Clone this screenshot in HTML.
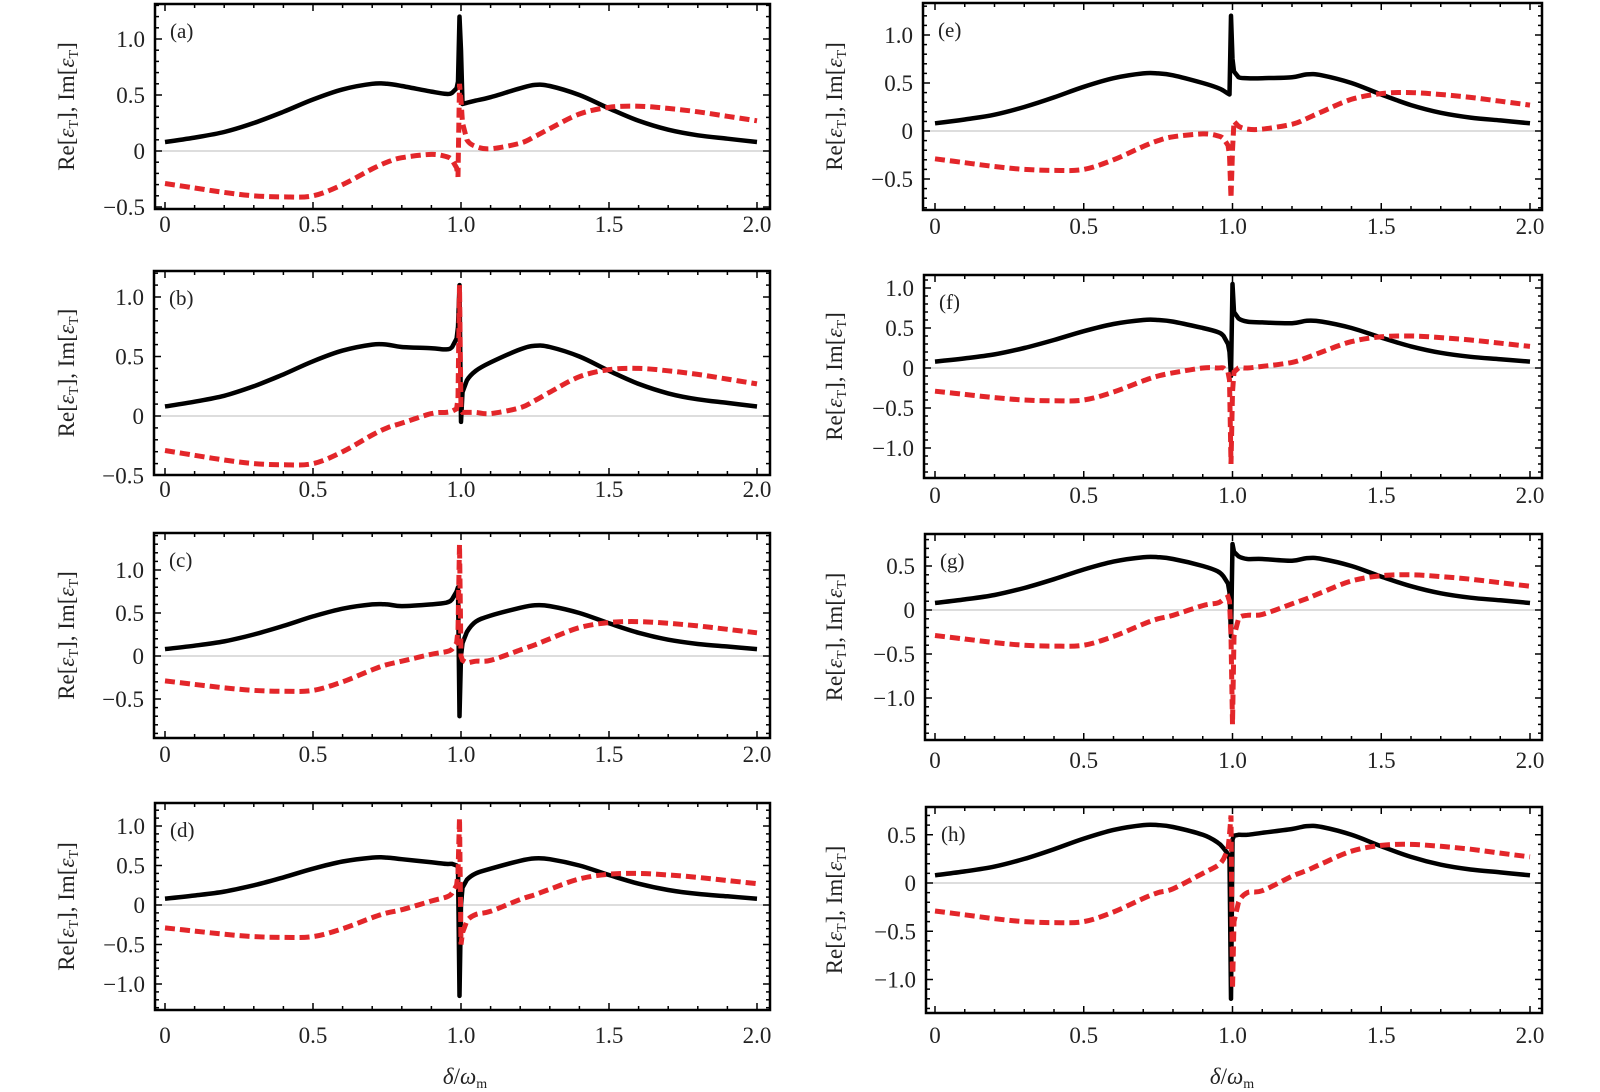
<!DOCTYPE html>
<html><head><meta charset="utf-8"><style>
html,body{margin:0;padding:0;background:#fff}
svg{display:block}
text{font-family:"Liberation Serif",serif;fill:#222}
</style></head><body>
<svg id="fig" width="1600" height="1092" viewBox="0 0 1600 1092" xmlns="http://www.w3.org/2000/svg"></svg>
<script>
// shared smooth background curves (x, value)
const baseX  = [0,0.1,0.2,0.3,0.4,0.5,0.6,0.7,0.75,0.8,1.2,1.25,1.3,1.4,1.5,1.6,1.7,1.8,1.9,2.0];
const baseRe = [0.08,0.12,0.17,0.25,0.35,0.46,0.55,0.60,0.60,0.58,0.56,0.59,0.58,0.50,0.38,0.27,0.19,0.14,0.11,0.08];
const baseIm = [-0.29,-0.33,-0.37,-0.40,-0.41,-0.40,-0.30,-0.16,-0.10,-0.06,0.07,0.13,0.20,0.33,0.39,0.40,0.38,0.35,0.31,0.27];
// resonance region per panel
const resX = {
 a:[0.9,0.95,0.97,0.985,0.99,0.995,1.0,1.005,1.02,1.05,1.1],
 b:[0.9,0.95,0.97,0.985,0.99,0.995,1.0,1.005,1.02,1.05,1.1],
 c:[0.9,0.95,0.97,0.985,0.99,0.995,1.0,1.005,1.02,1.05,1.1],
 d:[0.9,0.95,0.97,0.985,0.99,0.995,1.0,1.005,1.02,1.05,1.1],
 e:[0.9,0.95,0.97,0.985,0.99,0.995,1.0,1.005,1.02,1.05,1.1],
 f:[0.9,0.95,0.97,0.985,0.99,0.995,1.0,1.005,1.02,1.05,1.1],
 g:[0.9,0.95,0.97,0.985,0.99,0.995,1.0,1.005,1.02,1.05,1.1],
 h:[0.9,0.95,0.97,0.985,0.99,0.995,1.0,1.005,1.02,1.05,1.1]
};
const resRe = {
 a:[0.53,0.51,0.52,0.56,0.62,1.2,0.9,0.42,0.43,0.45,0.48],
 b:[0.57,0.56,0.58,0.65,0.75,1.1,-0.05,0.20,0.30,0.38,0.45],
 c:[0.60,0.62,0.66,0.75,0.80,-0.7,0.0,0.15,0.28,0.40,0.47],
 d:[0.54,0.52,0.52,0.50,0.48,-1.15,0.0,0.22,0.32,0.40,0.46],
 e:[0.50,0.45,0.42,0.39,0.38,1.2,0.75,0.62,0.56,0.55,0.55],
 f:[0.50,0.45,0.40,0.30,0.20,-0.1,1.05,0.70,0.62,0.58,0.57],
 g:[0.50,0.44,0.38,0.30,0.20,-0.3,0.75,0.66,0.61,0.58,0.58],
 h:[0.50,0.42,0.36,0.30,0.25,-1.2,0.45,0.49,0.50,0.50,0.52]
};
const resIm = {
 a:[-0.03,-0.05,-0.08,-0.15,-0.23,0.60,0.45,0.25,0.10,0.04,0.02],
 b:[0.02,0.03,0.04,0.06,0.15,1.1,0.05,0.03,0.03,0.03,0.02],
 c:[0.02,0.05,0.08,0.15,0.30,1.3,0.0,-0.05,-0.08,-0.06,-0.05],
 d:[0.05,0.10,0.15,0.25,0.40,1.1,-0.5,-0.35,-0.20,-0.12,-0.08],
 e:[-0.03,-0.05,-0.08,-0.15,-0.25,-0.7,-0.2,0.10,0.05,0.02,0.02],
 f:[0.0,0.0,0.0,-0.05,-0.15,-1.2,-0.3,-0.05,0.0,0.0,0.02],
 g:[0.05,0.08,0.12,0.15,0.10,-0.3,-1.3,-0.30,-0.10,-0.06,-0.05],
 h:[0.10,0.18,0.25,0.35,0.50,0.70,-1.1,-0.40,-0.20,-0.10,-0.08]
};
const yTicks = {
 a:[1.0,0.5,0,-0.5], b:[1.0,0.5,0,-0.5], c:[1.0,0.5,0,-0.5], d:[1.0,0.5,0,-0.5,-1.0],
 e:[1.0,0.5,0,-0.5], f:[1.0,0.5,0,-0.5,-1.0], g:[0.5,0,-0.5,-1.0], h:[0.5,0,-0.5,-1.0]
};
const xTicks = [0,0.5,1.0,1.5,2.0];
const xTickLabels = ["0","0.5","1.0","1.5","2.0"];

const NS="http://www.w3.org/2000/svg";
const svg=document.getElementById('fig');
function mk(tag,attrs,parent){const e=document.createElementNS(NS,tag);for(const k in attrs)e.setAttribute(k,attrs[k]);(parent||svg).appendChild(e);return e;}
function fmt(v){if(v===0)return "0";const s=Math.abs(v).toFixed(1);return (v<0?"\u2212":"")+s;}

const panels=[
 {id:'a',L:155,R:770,T:4,B:209,z:151,s:112,xl:232},
 {id:'b',L:154,R:770,T:271,B:475,z:416,s:119,xl:497},
 {id:'c',L:154,R:770,T:533,B:738,z:656,s:86,xl:762},
 {id:'d',L:155,R:770,T:803,B:1010,z:905,s:79,xl:1043},
 {id:'e',L:923,R:1542,T:3,B:210,z:131,s:96,xl:234},
 {id:'f',L:924,R:1542,T:275,B:478,z:368,s:80,xl:503},
 {id:'g',L:925,R:1542,T:534,B:740,z:610,s:88,xl:768},
 {id:'h',L:926,R:1542,T:807,B:1013,z:883,s:96.5,xl:1043}
];
panels.forEach(p=>{
 const left=p.L<500;
 const x0=left?165:935, xs=left?296:297.5;
 const X=v=>x0+v*xs, Y=v=>p.z-v*p.s;
 const g=mk('g',{});
 
 
 const cp='clip'+p.id;
 const c=mk('clipPath',{id:cp},g);mk('rect',{x:p.L,y:p.T,width:p.R-p.L,height:p.B-p.T},c);
 const zl=mk('line',{x1:p.L,x2:p.R,y1:Y(0),y2:Y(0),stroke:'#bbb','stroke-width':1},g);
 
 
 function series(baseY,res){
  const pts=[];
  baseX.forEach((x,i)=>{if(x<0.9)pts.push([x,baseY[i]]);});
  resX[p.id].forEach((x,i)=>pts.push([x,res[p.id][i]]));
  baseX.forEach((x,i)=>{if(x>1.1)pts.push([x,baseY[i]]);});
  return pts;
 }
 function path(pts){
  let d='M'+X(pts[0][0]).toFixed(1)+','+Y(pts[0][1]).toFixed(1);
  for(let i=0;i<pts.length-1;i++){
   const p0=pts[Math.max(0,i-1)],p1=pts[i],p2=pts[i+1],p3=pts[Math.min(pts.length-1,i+2)];
   const res=p1[0]>=0.97&&p2[0]<=1.02;
   if(res){d+='L'+X(p2[0]).toFixed(1)+','+Y(p2[1]).toFixed(1);continue;}
   const c1x=X(p1[0])+(X(p2[0])-X(p0[0]))/6,c1y=Y(p1[1])+(Y(p2[1])-Y(p0[1]))/6;
   const c2x=X(p2[0])-(X(p3[0])-X(p1[0]))/6,c2y=Y(p2[1])-(Y(p3[1])-Y(p1[1]))/6;
   d+='C'+c1x.toFixed(1)+','+c1y.toFixed(1)+' '+c2x.toFixed(1)+','+c2y.toFixed(1)+' '+X(p2[0]).toFixed(1)+','+Y(p2[1]).toFixed(1);
  }
  return d;
 }
 const re=mk('path',{d:path(series(baseRe,resRe)),fill:'none',stroke:'#000','stroke-width':4.5,'clip-path':'url(#'+cp+')','stroke-linejoin':'round'},g);
 
 
 const im=mk('path',{d:path(series(baseIm,resIm)),fill:'none',stroke:'#e3262a','stroke-width':5,'stroke-dasharray':'10,5','clip-path':'url(#'+cp+')'},g);
 
 
 const fr=mk('rect',{x:p.L,y:p.T,width:p.R-p.L,height:p.B-p.T,fill:'none',stroke:'#000','stroke-width':2.5},g);
 
 
 for(let v=0;v<=2.001;v+=0.1){
  const big=Math.abs(v*2-Math.round(v*2))<1e-6;const L=big?7:4;
  mk('line',{x1:X(v),x2:X(v),y1:p.B,y2:p.B-L,stroke:'#000','stroke-width':1.5},g);
  mk('line',{x1:X(v),x2:X(v),y1:p.T,y2:p.T+L,stroke:'#000','stroke-width':1.5},g);
 }
 xTicks.forEach((v,i)=>{
  const t=mk('text',{x:X(v),y:p.xl,'font-size':23,'text-anchor':'middle'},g);t.textContent=xTickLabels[i];
  
  
 });
 for(let v=-1.5;v<=1.5;v+=0.1){
  const y=Y(v);if(y<p.T+1||y>p.B-1)continue;
  const big=Math.abs(v*2-Math.round(v*2))<1e-6;const L=big?7:4;
  mk('line',{x1:p.L,x2:p.L+L,y1:y,y2:y,stroke:'#000','stroke-width':1.5},g);
  mk('line',{x1:p.R,x2:p.R-L,y1:y,y2:y,stroke:'#000','stroke-width':1.5},g);
 }
 yTicks[p.id].forEach(v=>{
  const t=mk('text',{x:p.L-10,y:Y(v)+8,'font-size':23,'text-anchor':'end'},g);t.textContent=fmt(v);
  
  
 });
 const lb=mk('text',{x:p.L+15,y:p.T+34,'font-size':21},g);lb.textContent='('+p.id+')';
 
 
 const cx=left?74:842,cy=(p.T+p.B)/2;
 const yl=mk('text',{x:cx,y:cy,'font-size':23,'text-anchor':'middle',transform:'rotate(-90 '+cx+' '+cy+')'},g);
 yl.innerHTML='Re[<tspan font-style="italic">ε</tspan><tspan font-size="14" dy="4">T</tspan><tspan dy="-4">], Im[</tspan><tspan font-style="italic">ε</tspan><tspan font-size="14" dy="4">T</tspan><tspan dy="-4">]</tspan>';
 
 
});
[[465],[1232]].forEach(([x])=>{
 const t=mk('text',{x:x,y:1084,'font-size':23,'text-anchor':'middle'});
 t.innerHTML='<tspan font-style="italic">δ</tspan>/<tspan font-style="italic">ω</tspan><tspan font-size="14" dy="4">m</tspan>';
 
 
});
</script>
</body></html>
